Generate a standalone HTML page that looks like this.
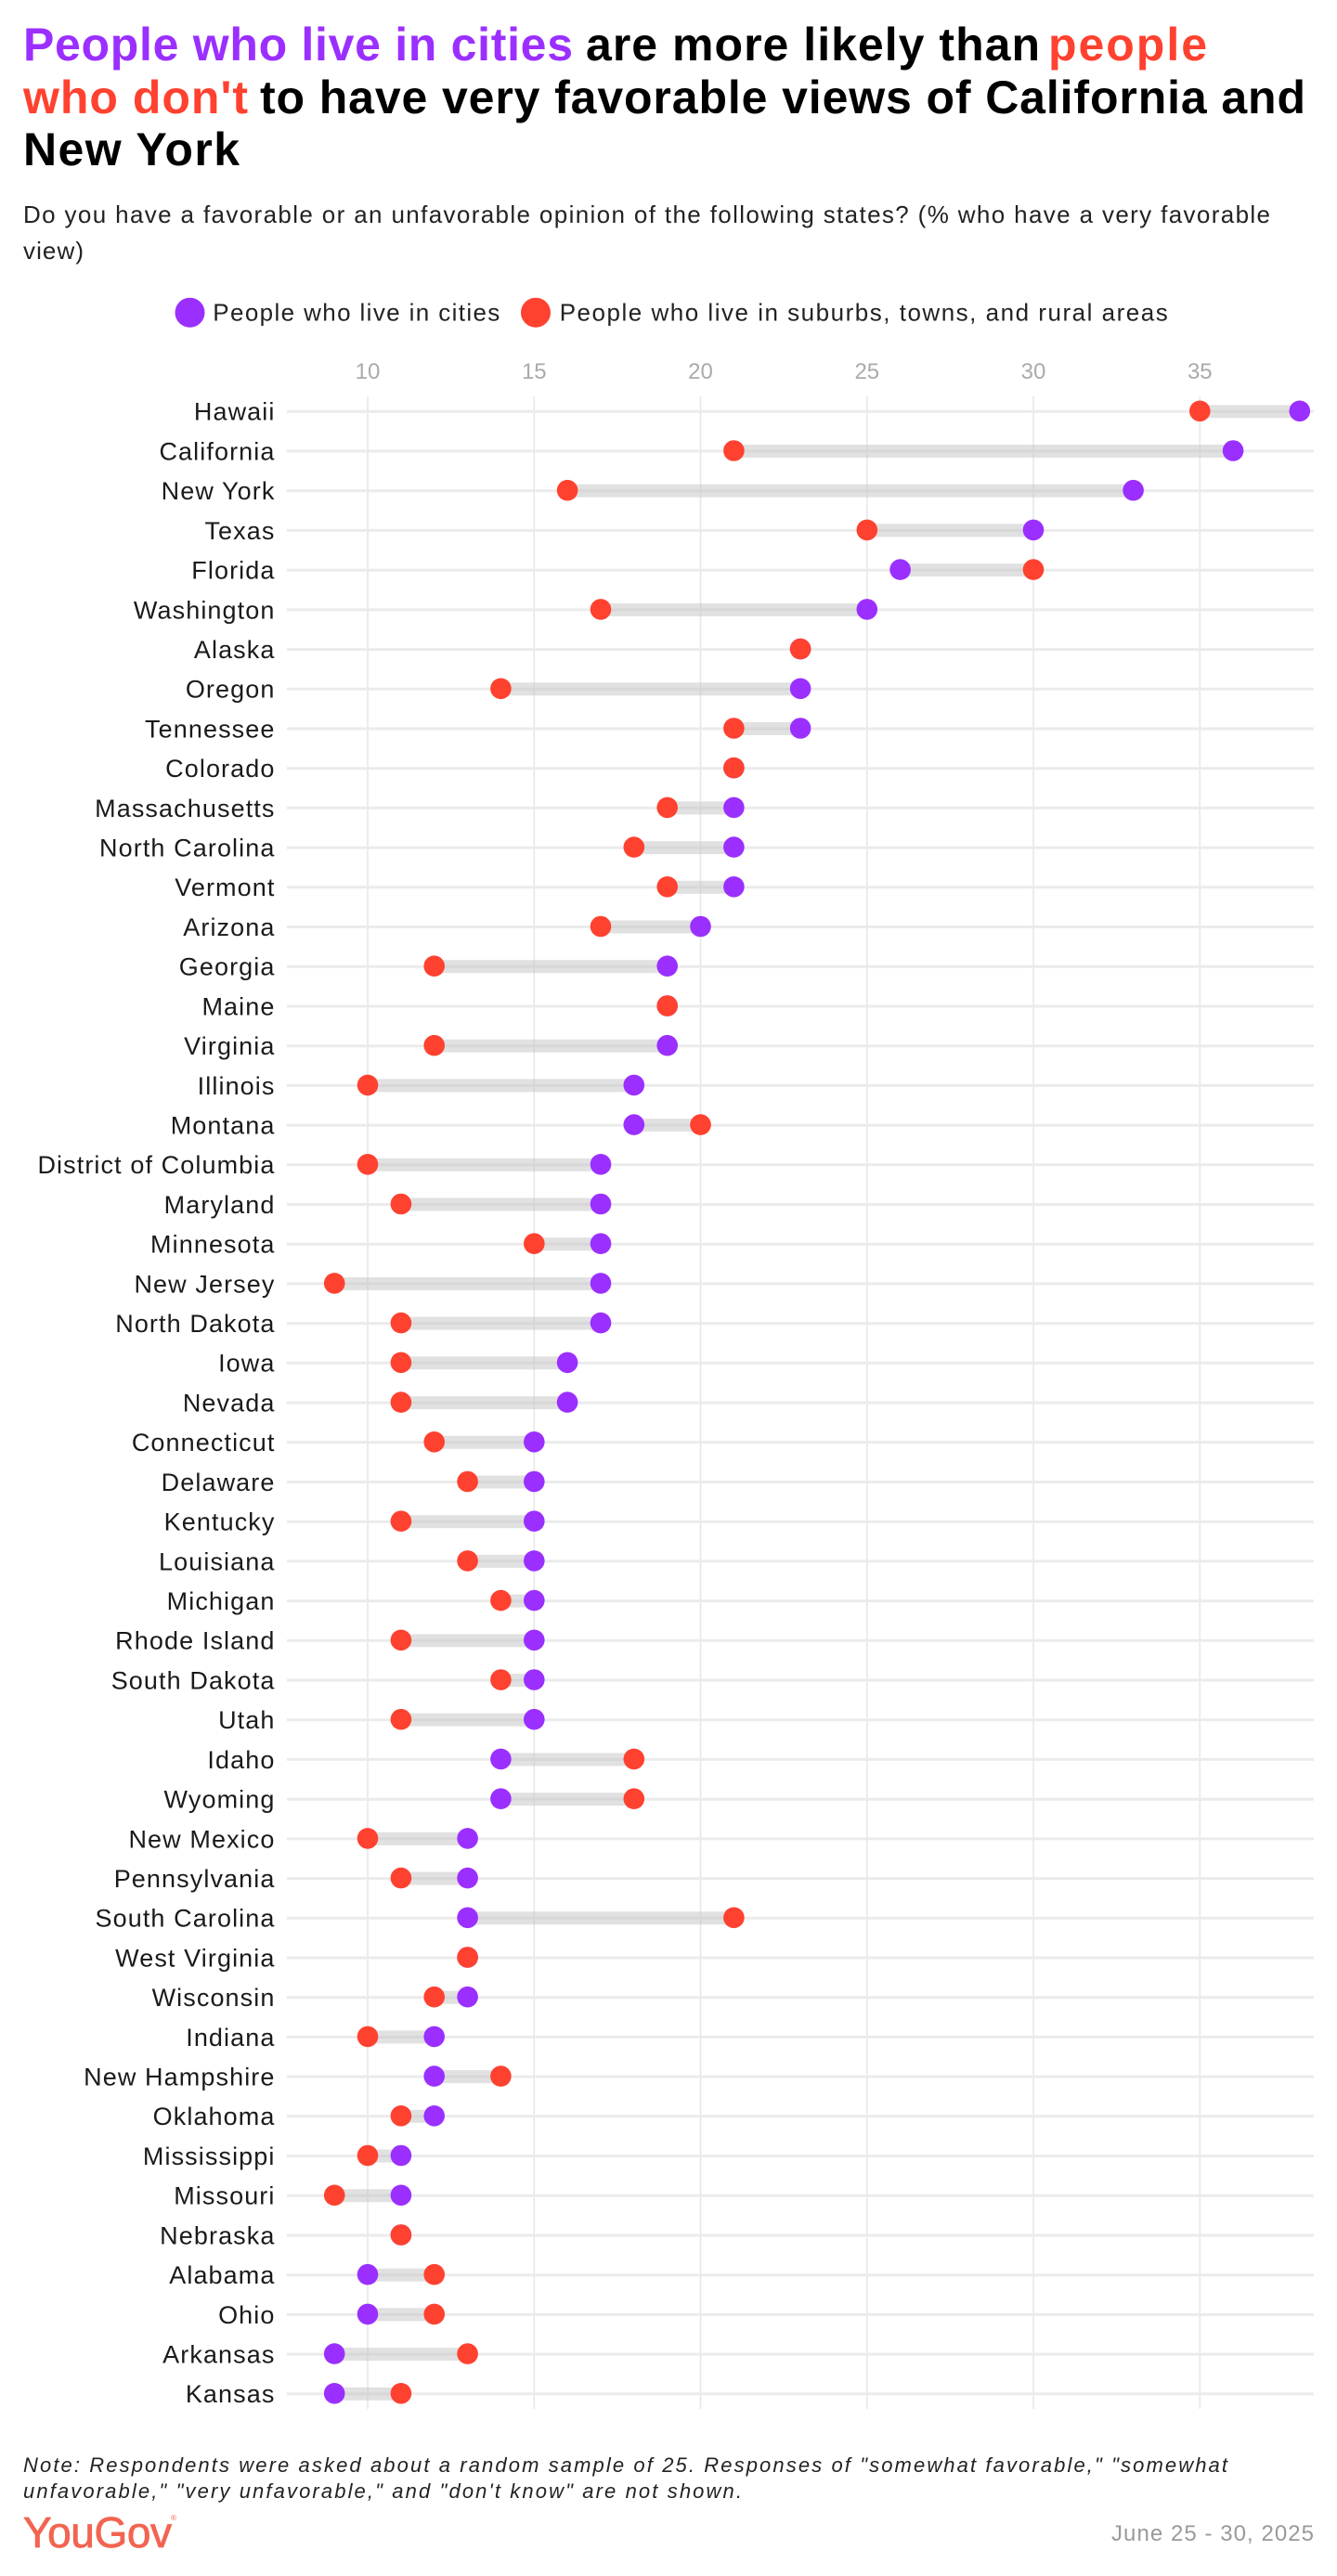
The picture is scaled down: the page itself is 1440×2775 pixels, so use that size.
<!DOCTYPE html>
<html>
<head>
<meta charset="utf-8">
<style>
  html,body{margin:0;padding:0;background:#fff;}
  svg{display:block;}
  .t{font-family:"Liberation Sans",Arial,sans-serif;font-weight:bold;font-size:50px;}
  .sub{font-family:"Liberation Sans",Arial,sans-serif;font-size:26px;fill:#222;}
  .leg{font-family:"Liberation Sans",Arial,sans-serif;font-size:26px;fill:#222;}
  .tick{font-family:"Liberation Sans",Arial,sans-serif;font-size:24px;fill:#aaaaaa;text-anchor:middle;}
  .lab{font-family:"Liberation Sans",Arial,sans-serif;font-size:27px;fill:#1a1a1a;letter-spacing:1.1px;text-anchor:end;}
  .grid{stroke:#e6e6e6;stroke-width:1.5;}
  .rl{stroke:#ebebeb;stroke-width:3;}
  .bar{fill:#c4c4c4;fill-opacity:0.5;}
  .p{fill:#9b2fff;}
  .r{fill:#ff4130;}
  .note{font-family:"Liberation Sans",Arial,sans-serif;font-style:italic;font-size:22px;fill:#222;}
  .logo{font-family:"Liberation Sans",Arial,sans-serif;font-size:46px;fill:#f26451;stroke:#f26451;stroke-width:0.8;}
  .date{font-family:"Liberation Sans",Arial,sans-serif;font-size:24px;fill:#999;}
</style>
</head>
<body>
<svg width="1440" height="2775" viewBox="0 0 1440 2775" xmlns="http://www.w3.org/2000/svg">
  <!-- Title -->
  <text class="t" x="25" y="65" fill="#9b2fff" textLength="592" lengthAdjust="spacing">People who live in cities</text>
  <text class="t" x="631" y="65" fill="#000" textLength="489" lengthAdjust="spacing">are more likely than</text>
  <text class="t" x="1129" y="65" fill="#ff4130" textLength="171" lengthAdjust="spacing">people</text>
  <text class="t" x="25" y="122" fill="#ff4130" textLength="242" lengthAdjust="spacing">who don't</text>
  <text class="t" x="280" y="122" fill="#000" textLength="1126" lengthAdjust="spacing">to have very favorable views of California and</text>
  <text class="t" x="25" y="178" fill="#000" textLength="233" lengthAdjust="spacing">New York</text>

  <!-- Subtitle -->
  <text class="sub" x="25" y="240" textLength="1343" lengthAdjust="spacing">Do you have a favorable or an unfavorable opinion of the following states? (% who have a very favorable</text>
  <text class="sub" x="25" y="279" textLength="65" lengthAdjust="spacing">view)</text>

  <!-- Legend -->
  <circle class="p" cx="204.5" cy="336.7" r="16"/>
  <text class="leg" x="229.3" y="345.5" textLength="309" lengthAdjust="spacing">People who live in cities</text>
  <circle class="r" cx="577" cy="336.7" r="16"/>
  <text class="leg" x="602.7" y="345.5" textLength="655" lengthAdjust="spacing">People who live in suburbs, towns, and rural areas</text>

  <!-- Ticks -->
  <text class="tick" x="396" y="408">10</text>
  <text class="tick" x="575.3" y="408">15</text>
  <text class="tick" x="754.5" y="408">20</text>
  <text class="tick" x="933.8" y="408">25</text>
  <text class="tick" x="1113" y="408">30</text>
  <text class="tick" x="1292.3" y="408">35</text>

  <!-- Gridlines -->
  <line class="grid" x1="396" x2="396" y1="427" y2="2595"/>
  <line class="grid" x1="575.3" x2="575.3" y1="427" y2="2595"/>
  <line class="grid" x1="754.5" x2="754.5" y1="427" y2="2595"/>
  <line class="grid" x1="933.8" x2="933.8" y1="427" y2="2595"/>
  <line class="grid" x1="1113" x2="1113" y1="427" y2="2595"/>
  <line class="grid" x1="1292.3" x2="1292.3" y1="427" y2="2595"/>

  <!-- Rows -->
  <g transform="translate(0,443.3)"><text class="lab" x="296.5" y="9.4">Hawaii</text><line class="rl" x1="309" x2="1415"/><rect class="bar" x="1292.3" y="-7" width="107.5" height="14"/><circle class="p" cx="1399.8" cy="-0.5" r="11.3"/><circle class="r" cx="1292.3" cy="-0.5" r="11.3"/></g>
  <g transform="translate(0,486.0)"><text class="lab" x="296.5" y="9.4">California</text><line class="rl" x1="309" x2="1415"/><rect class="bar" x="790.4" y="-7" width="537.7" height="14"/><circle class="p" cx="1328.1" cy="-0.5" r="11.3"/><circle class="r" cx="790.4" cy="-0.5" r="11.3"/></g>
  <g transform="translate(0,528.7)"><text class="lab" x="296.5" y="9.4">New York</text><line class="rl" x1="309" x2="1415"/><rect class="bar" x="611.1" y="-7" width="609.5" height="14"/><circle class="p" cx="1220.6" cy="-0.5" r="11.3"/><circle class="r" cx="611.1" cy="-0.5" r="11.3"/></g>
  <g transform="translate(0,571.4)"><text class="lab" x="296.5" y="9.4">Texas</text><line class="rl" x1="309" x2="1415"/><rect class="bar" x="933.8" y="-7" width="179.2" height="14"/><circle class="p" cx="1113" cy="-0.5" r="11.3"/><circle class="r" cx="933.8" cy="-0.5" r="11.3"/></g>
  <g transform="translate(0,614.1)"><text class="lab" x="296.5" y="9.4">Florida</text><line class="rl" x1="309" x2="1415"/><rect class="bar" x="969.6" y="-7" width="143.4" height="14"/><circle class="p" cx="969.6" cy="-0.5" r="11.3"/><circle class="r" cx="1113" cy="-0.5" r="11.3"/></g>
  <g transform="translate(0,656.9)"><text class="lab" x="296.5" y="9.4">Washington</text><line class="rl" x1="309" x2="1415"/><rect class="bar" x="647" y="-7" width="286.8" height="14"/><circle class="p" cx="933.8" cy="-0.5" r="11.3"/><circle class="r" cx="647" cy="-0.5" r="11.3"/></g>
  <g transform="translate(0,699.6)"><text class="lab" x="296.5" y="9.4">Alaska</text><line class="rl" x1="309" x2="1415"/><circle class="p" cx="862.1" cy="-0.5" r="11.3"/><circle class="r" cx="862.1" cy="-0.5" r="11.3"/></g>
  <g transform="translate(0,742.3)"><text class="lab" x="296.5" y="9.4">Oregon</text><line class="rl" x1="309" x2="1415"/><rect class="bar" x="539.4" y="-7" width="322.7" height="14"/><circle class="p" cx="862.1" cy="-0.5" r="11.3"/><circle class="r" cx="539.4" cy="-0.5" r="11.3"/></g>
  <g transform="translate(0,785.0)"><text class="lab" x="296.5" y="9.4">Tennessee</text><line class="rl" x1="309" x2="1415"/><rect class="bar" x="790.4" y="-7" width="71.7" height="14"/><circle class="p" cx="862.1" cy="-0.5" r="11.3"/><circle class="r" cx="790.4" cy="-0.5" r="11.3"/></g>
  <g transform="translate(0,827.7)"><text class="lab" x="296.5" y="9.4">Colorado</text><line class="rl" x1="309" x2="1415"/><circle class="p" cx="790.4" cy="-0.5" r="11.3"/><circle class="r" cx="790.4" cy="-0.5" r="11.3"/></g>
  <g transform="translate(0,870.4)"><text class="lab" x="296.5" y="9.4">Massachusetts</text><line class="rl" x1="309" x2="1415"/><rect class="bar" x="718.7" y="-7" width="71.7" height="14"/><circle class="p" cx="790.4" cy="-0.5" r="11.3"/><circle class="r" cx="718.7" cy="-0.5" r="11.3"/></g>
  <g transform="translate(0,913.1)"><text class="lab" x="296.5" y="9.4">North Carolina</text><line class="rl" x1="309" x2="1415"/><rect class="bar" x="682.8" y="-7" width="107.6" height="14"/><circle class="p" cx="790.4" cy="-0.5" r="11.3"/><circle class="r" cx="682.8" cy="-0.5" r="11.3"/></g>
  <g transform="translate(0,955.8)"><text class="lab" x="296.5" y="9.4">Vermont</text><line class="rl" x1="309" x2="1415"/><rect class="bar" x="718.7" y="-7" width="71.7" height="14"/><circle class="p" cx="790.4" cy="-0.5" r="11.3"/><circle class="r" cx="718.7" cy="-0.5" r="11.3"/></g>
  <g transform="translate(0,998.5)"><text class="lab" x="296.5" y="9.4">Arizona</text><line class="rl" x1="309" x2="1415"/><rect class="bar" x="647" y="-7" width="107.5" height="14"/><circle class="p" cx="754.5" cy="-0.5" r="11.3"/><circle class="r" cx="647" cy="-0.5" r="11.3"/></g>
  <g transform="translate(0,1041.2)"><text class="lab" x="296.5" y="9.4">Georgia</text><line class="rl" x1="309" x2="1415"/><rect class="bar" x="467.7" y="-7" width="251" height="14"/><circle class="p" cx="718.7" cy="-0.5" r="11.3"/><circle class="r" cx="467.7" cy="-0.5" r="11.3"/></g>
  <g transform="translate(0,1084.0)"><text class="lab" x="296.5" y="9.4">Maine</text><line class="rl" x1="309" x2="1415"/><circle class="p" cx="718.7" cy="-0.5" r="11.3"/><circle class="r" cx="718.7" cy="-0.5" r="11.3"/></g>
  <g transform="translate(0,1126.7)"><text class="lab" x="296.5" y="9.4">Virginia</text><line class="rl" x1="309" x2="1415"/><rect class="bar" x="467.7" y="-7" width="251" height="14"/><circle class="p" cx="718.7" cy="-0.5" r="11.3"/><circle class="r" cx="467.7" cy="-0.5" r="11.3"/></g>
  <g transform="translate(0,1169.4)"><text class="lab" x="296.5" y="9.4">Illinois</text><line class="rl" x1="309" x2="1415"/><rect class="bar" x="396" y="-7" width="286.8" height="14"/><circle class="p" cx="682.8" cy="-0.5" r="11.3"/><circle class="r" cx="396" cy="-0.5" r="11.3"/></g>
  <g transform="translate(0,1212.1)"><text class="lab" x="296.5" y="9.4">Montana</text><line class="rl" x1="309" x2="1415"/><rect class="bar" x="682.8" y="-7" width="71.7" height="14"/><circle class="p" cx="682.8" cy="-0.5" r="11.3"/><circle class="r" cx="754.5" cy="-0.5" r="11.3"/></g>
  <g transform="translate(0,1254.8)"><text class="lab" x="296.5" y="9.4">District of Columbia</text><line class="rl" x1="309" x2="1415"/><rect class="bar" x="396" y="-7" width="251" height="14"/><circle class="p" cx="647" cy="-0.5" r="11.3"/><circle class="r" cx="396" cy="-0.5" r="11.3"/></g>
  <g transform="translate(0,1297.5)"><text class="lab" x="296.5" y="9.4">Maryland</text><line class="rl" x1="309" x2="1415"/><rect class="bar" x="431.9" y="-7" width="215.1" height="14"/><circle class="p" cx="647" cy="-0.5" r="11.3"/><circle class="r" cx="431.9" cy="-0.5" r="11.3"/></g>
  <g transform="translate(0,1340.2)"><text class="lab" x="296.5" y="9.4">Minnesota</text><line class="rl" x1="309" x2="1415"/><rect class="bar" x="575.3" y="-7" width="71.7" height="14"/><circle class="p" cx="647" cy="-0.5" r="11.3"/><circle class="r" cx="575.3" cy="-0.5" r="11.3"/></g>
  <g transform="translate(0,1382.9)"><text class="lab" x="296.5" y="9.4">New Jersey</text><line class="rl" x1="309" x2="1415"/><rect class="bar" x="360.2" y="-7" width="286.8" height="14"/><circle class="p" cx="647" cy="-0.5" r="11.3"/><circle class="r" cx="360.2" cy="-0.5" r="11.3"/></g>
  <g transform="translate(0,1425.6)"><text class="lab" x="296.5" y="9.4">North Dakota</text><line class="rl" x1="309" x2="1415"/><rect class="bar" x="431.9" y="-7" width="215.1" height="14"/><circle class="p" cx="647" cy="-0.5" r="11.3"/><circle class="r" cx="431.9" cy="-0.5" r="11.3"/></g>
  <g transform="translate(0,1468.3)"><text class="lab" x="296.5" y="9.4">Iowa</text><line class="rl" x1="309" x2="1415"/><rect class="bar" x="431.9" y="-7" width="179.2" height="14"/><circle class="p" cx="611.1" cy="-0.5" r="11.3"/><circle class="r" cx="431.9" cy="-0.5" r="11.3"/></g>
  <g transform="translate(0,1511.1)"><text class="lab" x="296.5" y="9.4">Nevada</text><line class="rl" x1="309" x2="1415"/><rect class="bar" x="431.9" y="-7" width="179.2" height="14"/><circle class="p" cx="611.1" cy="-0.5" r="11.3"/><circle class="r" cx="431.9" cy="-0.5" r="11.3"/></g>
  <g transform="translate(0,1553.8)"><text class="lab" x="296.5" y="9.4">Connecticut</text><line class="rl" x1="309" x2="1415"/><rect class="bar" x="467.7" y="-7" width="107.6" height="14"/><circle class="p" cx="575.3" cy="-0.5" r="11.3"/><circle class="r" cx="467.7" cy="-0.5" r="11.3"/></g>
  <g transform="translate(0,1596.5)"><text class="lab" x="296.5" y="9.4">Delaware</text><line class="rl" x1="309" x2="1415"/><rect class="bar" x="503.6" y="-7" width="71.7" height="14"/><circle class="p" cx="575.3" cy="-0.5" r="11.3"/><circle class="r" cx="503.6" cy="-0.5" r="11.3"/></g>
  <g transform="translate(0,1639.2)"><text class="lab" x="296.5" y="9.4">Kentucky</text><line class="rl" x1="309" x2="1415"/><rect class="bar" x="431.9" y="-7" width="143.4" height="14"/><circle class="p" cx="575.3" cy="-0.5" r="11.3"/><circle class="r" cx="431.9" cy="-0.5" r="11.3"/></g>
  <g transform="translate(0,1681.9)"><text class="lab" x="296.5" y="9.4">Louisiana</text><line class="rl" x1="309" x2="1415"/><rect class="bar" x="503.6" y="-7" width="71.7" height="14"/><circle class="p" cx="575.3" cy="-0.5" r="11.3"/><circle class="r" cx="503.6" cy="-0.5" r="11.3"/></g>
  <g transform="translate(0,1724.6)"><text class="lab" x="296.5" y="9.4">Michigan</text><line class="rl" x1="309" x2="1415"/><rect class="bar" x="539.4" y="-7" width="35.9" height="14"/><circle class="p" cx="575.3" cy="-0.5" r="11.3"/><circle class="r" cx="539.4" cy="-0.5" r="11.3"/></g>
  <g transform="translate(0,1767.3)"><text class="lab" x="296.5" y="9.4">Rhode Island</text><line class="rl" x1="309" x2="1415"/><rect class="bar" x="431.9" y="-7" width="143.4" height="14"/><circle class="p" cx="575.3" cy="-0.5" r="11.3"/><circle class="r" cx="431.9" cy="-0.5" r="11.3"/></g>
  <g transform="translate(0,1810.0)"><text class="lab" x="296.5" y="9.4">South Dakota</text><line class="rl" x1="309" x2="1415"/><rect class="bar" x="539.4" y="-7" width="35.9" height="14"/><circle class="p" cx="575.3" cy="-0.5" r="11.3"/><circle class="r" cx="539.4" cy="-0.5" r="11.3"/></g>
  <g transform="translate(0,1852.7)"><text class="lab" x="296.5" y="9.4">Utah</text><line class="rl" x1="309" x2="1415"/><rect class="bar" x="431.9" y="-7" width="143.4" height="14"/><circle class="p" cx="575.3" cy="-0.5" r="11.3"/><circle class="r" cx="431.9" cy="-0.5" r="11.3"/></g>
  <g transform="translate(0,1895.4)"><text class="lab" x="296.5" y="9.4">Idaho</text><line class="rl" x1="309" x2="1415"/><rect class="bar" x="539.4" y="-7" width="143.4" height="14"/><circle class="p" cx="539.4" cy="-0.5" r="11.3"/><circle class="r" cx="682.8" cy="-0.5" r="11.3"/></g>
  <g transform="translate(0,1938.2)"><text class="lab" x="296.5" y="9.4">Wyoming</text><line class="rl" x1="309" x2="1415"/><rect class="bar" x="539.4" y="-7" width="143.4" height="14"/><circle class="p" cx="539.4" cy="-0.5" r="11.3"/><circle class="r" cx="682.8" cy="-0.5" r="11.3"/></g>
  <g transform="translate(0,1980.9)"><text class="lab" x="296.5" y="9.4">New Mexico</text><line class="rl" x1="309" x2="1415"/><rect class="bar" x="396" y="-7" width="107.6" height="14"/><circle class="p" cx="503.6" cy="-0.5" r="11.3"/><circle class="r" cx="396" cy="-0.5" r="11.3"/></g>
  <g transform="translate(0,2023.6)"><text class="lab" x="296.5" y="9.4">Pennsylvania</text><line class="rl" x1="309" x2="1415"/><rect class="bar" x="431.9" y="-7" width="71.7" height="14"/><circle class="p" cx="503.6" cy="-0.5" r="11.3"/><circle class="r" cx="431.9" cy="-0.5" r="11.3"/></g>
  <g transform="translate(0,2066.3)"><text class="lab" x="296.5" y="9.4">South Carolina</text><line class="rl" x1="309" x2="1415"/><rect class="bar" x="503.6" y="-7" width="286.8" height="14"/><circle class="p" cx="503.6" cy="-0.5" r="11.3"/><circle class="r" cx="790.4" cy="-0.5" r="11.3"/></g>
  <g transform="translate(0,2109.0)"><text class="lab" x="296.5" y="9.4">West Virginia</text><line class="rl" x1="309" x2="1415"/><circle class="p" cx="503.6" cy="-0.5" r="11.3"/><circle class="r" cx="503.6" cy="-0.5" r="11.3"/></g>
  <g transform="translate(0,2151.7)"><text class="lab" x="296.5" y="9.4">Wisconsin</text><line class="rl" x1="309" x2="1415"/><rect class="bar" x="467.7" y="-7" width="35.9" height="14"/><circle class="p" cx="503.6" cy="-0.5" r="11.3"/><circle class="r" cx="467.7" cy="-0.5" r="11.3"/></g>
  <g transform="translate(0,2194.4)"><text class="lab" x="296.5" y="9.4">Indiana</text><line class="rl" x1="309" x2="1415"/><rect class="bar" x="396" y="-7" width="71.7" height="14"/><circle class="p" cx="467.7" cy="-0.5" r="11.3"/><circle class="r" cx="396" cy="-0.5" r="11.3"/></g>
  <g transform="translate(0,2237.1)"><text class="lab" x="296.5" y="9.4">New Hampshire</text><line class="rl" x1="309" x2="1415"/><rect class="bar" x="467.7" y="-7" width="71.7" height="14"/><circle class="p" cx="467.7" cy="-0.5" r="11.3"/><circle class="r" cx="539.4" cy="-0.5" r="11.3"/></g>
  <g transform="translate(0,2279.8)"><text class="lab" x="296.5" y="9.4">Oklahoma</text><line class="rl" x1="309" x2="1415"/><rect class="bar" x="431.9" y="-7" width="35.8" height="14"/><circle class="p" cx="467.7" cy="-0.5" r="11.3"/><circle class="r" cx="431.9" cy="-0.5" r="11.3"/></g>
  <g transform="translate(0,2322.5)"><text class="lab" x="296.5" y="9.4">Mississippi</text><line class="rl" x1="309" x2="1415"/><rect class="bar" x="396" y="-7" width="35.9" height="14"/><circle class="p" cx="431.9" cy="-0.5" r="11.3"/><circle class="r" cx="396" cy="-0.5" r="11.3"/></g>
  <g transform="translate(0,2365.3)"><text class="lab" x="296.5" y="9.4">Missouri</text><line class="rl" x1="309" x2="1415"/><rect class="bar" x="360.2" y="-7" width="71.7" height="14"/><circle class="p" cx="431.9" cy="-0.5" r="11.3"/><circle class="r" cx="360.2" cy="-0.5" r="11.3"/></g>
  <g transform="translate(0,2408.0)"><text class="lab" x="296.5" y="9.4">Nebraska</text><line class="rl" x1="309" x2="1415"/><circle class="p" cx="431.9" cy="-0.5" r="11.3"/><circle class="r" cx="431.9" cy="-0.5" r="11.3"/></g>
  <g transform="translate(0,2450.7)"><text class="lab" x="296.5" y="9.4">Alabama</text><line class="rl" x1="309" x2="1415"/><rect class="bar" x="396" y="-7" width="71.7" height="14"/><circle class="p" cx="396" cy="-0.5" r="11.3"/><circle class="r" cx="467.7" cy="-0.5" r="11.3"/></g>
  <g transform="translate(0,2493.4)"><text class="lab" x="296.5" y="9.4">Ohio</text><line class="rl" x1="309" x2="1415"/><rect class="bar" x="396" y="-7" width="71.7" height="14"/><circle class="p" cx="396" cy="-0.5" r="11.3"/><circle class="r" cx="467.7" cy="-0.5" r="11.3"/></g>
  <g transform="translate(0,2536.1)"><text class="lab" x="296.5" y="9.4">Arkansas</text><line class="rl" x1="309" x2="1415"/><rect class="bar" x="360.2" y="-7" width="143.4" height="14"/><circle class="p" cx="360.2" cy="-0.5" r="11.3"/><circle class="r" cx="503.6" cy="-0.5" r="11.3"/></g>
  <g transform="translate(0,2578.8)"><text class="lab" x="296.5" y="9.4">Kansas</text><line class="rl" x1="309" x2="1415"/><rect class="bar" x="360.2" y="-7" width="71.7" height="14"/><circle class="p" cx="360.2" cy="-0.5" r="11.3"/><circle class="r" cx="431.9" cy="-0.5" r="11.3"/></g>

  <!-- Note -->
  <text class="note" x="25" y="2663" textLength="1297" lengthAdjust="spacing">Note: Respondents were asked about a random sample of 25. Responses of "somewhat favorable," "somewhat</text>
  <text class="note" x="25" y="2691" textLength="774" lengthAdjust="spacing">unfavorable," "very unfavorable," and "don't know" are not shown.</text>

  <!-- Footer -->
  <text class="logo" x="25" y="2744" textLength="160" lengthAdjust="spacing">YouGov</text>
  <text x="184" y="2715" font-family="Liberation Sans, Arial, sans-serif" font-size="8" fill="#f26451">®</text>
  <text class="date" x="1197" y="2737" textLength="218" lengthAdjust="spacing">June 25 - 30, 2025</text>
</svg>
</body>
</html>
